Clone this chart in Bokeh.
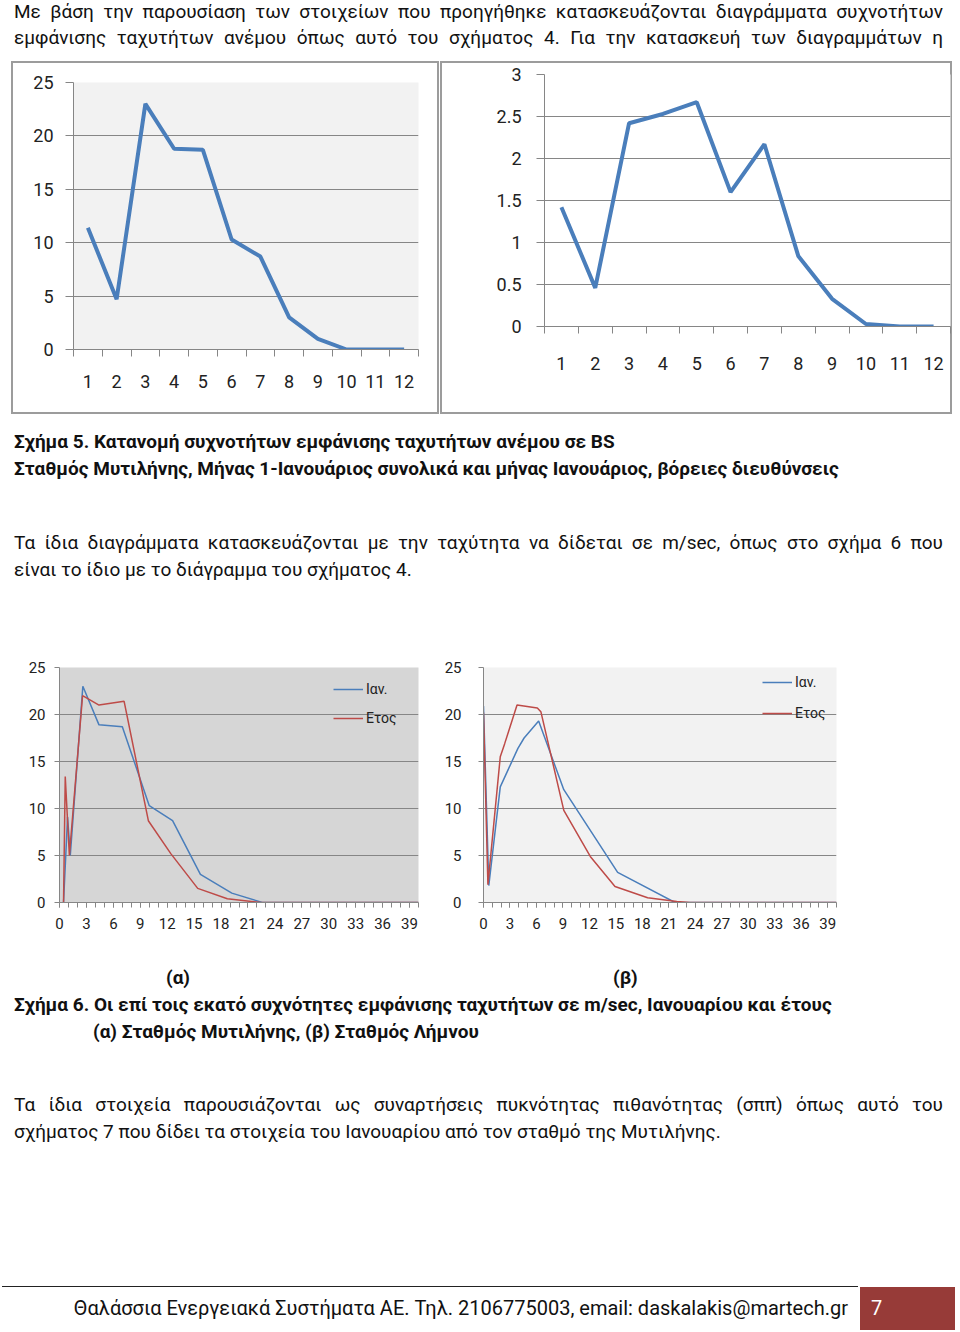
from bokeh.plotting import figure
from bokeh.models import (Range1d, FixedTicker, Legend, LegendItem, Div, Spacer,
                          NumeralTickFormatter)
from bokeh.layouts import column, row
from bokeh.embed import file_html
from bokeh.resources import INLINE

# ---------------- data ----------------
bf_classes = list(range(1, 13))
freq_jan_total = [11.4, 4.7, 23.0, 18.8, 18.7, 10.3, 8.7, 3.0, 1.0, 0.0, 0.0, 0.0]
freq_jan_north = [1.42, 0.46, 2.42, 2.53, 2.67, 1.60, 2.17, 0.84, 0.33, 0.03, 0.0, 0.0]

ms_tick_labels = list(range(0, 40, 3))
mytilene_jan_x = [0.45, 0.9, 1.2, 2.6, 4.4, 7.0, 10.0, 12.6, 15.7, 19.2, 22.6, 40.0]
mytilene_jan_y = [0.0, 9.1, 5.0, 23.0, 18.9, 18.7, 10.3, 8.7, 3.0, 1.0, 0.0, 0.0]
mytilene_year_x = [0.45, 0.64, 1.1, 2.57, 4.4, 7.2, 9.9, 12.4, 15.4, 18.7, 22.4, 40.0]
mytilene_year_y = [0.0, 13.4, 5.0, 22.0, 21.0, 21.4, 8.7, 5.2, 1.5, 0.4, 0.0, 0.0]
limnos_jan_x = [0.0, 0.6, 1.9, 3.9, 4.6, 6.25, 9.1, 15.2, 21.7, 40.0]
limnos_jan_y = [20.9, 1.8, 12.3, 16.4, 17.5, 19.3, 12.0, 3.2, 0.0, 0.0]
limnos_year_x = [0.0, 0.5, 1.9, 2.4, 3.8, 6.1, 6.5, 9.1, 12.1, 14.9, 18.6, 21.9, 23.4, 40.0]
limnos_year_y = [20.2, 1.9, 15.5, 16.9, 21.0, 20.7, 20.3, 9.8, 4.9, 1.7, 0.5, 0.1, 0.0, 0.0]

BLUE = "#4a7ebb"
RED = "#be4b48"
GRID = "#868686"
TXT = "#222222"
FONT = "Roboto"


def base_fig(w, h, xr, yr, mb, bg):
    p = figure(width=w, height=h, x_range=Range1d(*xr), y_range=Range1d(*yr),
               output_backend="svg", toolbar_location=None,
               min_border_left=mb[0], min_border_right=mb[1],
               min_border_top=mb[2], min_border_bottom=mb[3])
    p.background_fill_color = bg
    p.border_fill_color = "white"
    p.outline_line_color = None
    p.xgrid.grid_line_color = None
    p.ygrid.grid_line_color = GRID
    p.ygrid.grid_line_width = 1
    for ax in (p.xaxis[0], p.yaxis[0]):
        ax.axis_line_color = GRID
        ax.major_tick_line_color = GRID
        ax.minor_tick_line_color = GRID
        ax.major_label_text_color = TXT
        ax.major_label_text_font = FONT
        ax.major_tick_in = 0
        ax.minor_tick_in = 0
    p.yaxis.minor_tick_line_color = None
    return p


BOX = {"box-shadow": "inset 0 0 0 2px #9c9c9c", "background": "white"}

# ---------- top-left: Beaufort, total ----------
p1 = base_fig(428, 353, (0.5, 12.5), (0, 25), (62, 21, 21, 65), "#f2f2f2")
p1.line(bf_classes, freq_jan_total, line_color=BLUE, line_width=4)
p1.xaxis.ticker = FixedTicker(ticks=bf_classes, minor_ticks=[c + 0.5 for c in range(0, 13)])
p1.xaxis.major_tick_out = 0
p1.xaxis.minor_tick_out = 7
p1.xaxis.major_label_standoff = 18
p1.xaxis.major_label_text_font_size = "18px"
p1.yaxis.ticker = FixedTicker(ticks=[0, 5, 10, 15, 20, 25])
p1.yaxis.major_tick_out = 8
p1.yaxis.major_label_standoff = 12
p1.yaxis.major_label_text_font_size = "18px"
p1.border_fill_alpha = 0
p1.styles = BOX

# ---------- top-right: Beaufort, north ----------
p2 = base_fig(512, 353, (0.5, 12.5), (0, 3), (104, 2, 13, 88), "white")
p2.line(bf_classes, freq_jan_north, line_color=BLUE, line_width=4)
p2.xaxis.ticker = FixedTicker(ticks=bf_classes, minor_ticks=[c + 0.5 for c in range(0, 13)])
p2.xaxis.major_tick_out = 0
p2.xaxis.minor_tick_out = 7
p2.xaxis.major_label_standoff = 23
p2.xaxis.major_label_text_font_size = "18px"
p2.yaxis.ticker = FixedTicker(ticks=[0, 0.5, 1, 1.5, 2, 2.5, 3])
p2.yaxis.formatter = NumeralTickFormatter(format="0.[0]")
p2.yaxis.major_tick_out = 8
p2.yaxis.major_label_standoff = 15
p2.yaxis.major_label_text_font_size = "18px"
p2.border_fill_alpha = 0
p2.styles = BOX


def ms_fig(w, mb, bg, xj, yj, xy, yy, loc, spacing):
    p = base_fig(w, 290, (0, 40), (0, 25), mb, bg)
    rj = p.line(xj, yj, line_color=BLUE, line_width=1.5)
    ry = p.line(xy, yy, line_color=RED, line_width=1.5)
    p.xaxis.ticker = FixedTicker(ticks=ms_tick_labels, minor_ticks=list(range(0, 41)))
    p.xaxis.major_tick_out = 5
    p.xaxis.minor_tick_out = 5
    p.xaxis.major_label_standoff = 10
    p.xaxis.major_label_text_font_size = "15px"
    p.yaxis.ticker = FixedTicker(ticks=[0, 5, 10, 15, 20, 25])
    p.yaxis.major_tick_out = 5
    p.yaxis.major_label_text_font_size = "15px"
    leg = Legend(items=[LegendItem(label="Ιαν.", renderers=[rj]),
                        LegendItem(label="Ετος", renderers=[ry])],
                 location=loc, orientation="vertical",
                 glyph_width=30, glyph_height=20, label_height=20,
                 label_standoff=3, spacing=spacing, padding=0, margin=0,
                 border_line_color=None, background_fill_alpha=0,
                 label_text_font=FONT, label_text_font_size="14px",
                 label_text_color=TXT)
    p.add_layout(leg)
    return p


p3 = ms_fig(430, (59, 12, 12, 43), "#d6d6d6",
            mytilene_jan_x, mytilene_jan_y, mytilene_year_x, mytilene_year_y,
            (274, 174), 9)
p3.yaxis.major_label_standoff = 9
p4 = ms_fig(530, (53, 124, 12, 42), "#f2f2f2",
            limnos_jan_x, limnos_jan_y, limnos_year_x, limnos_year_y,
            (279, 179), 11)
p4.yaxis.major_label_standoff = 17


# ---------------- text blocks ----------------
def L(text, top, left=14, size=19, bold=False, justify_width=None, color="#111", extra=""):
    st = (f"position:absolute;top:{top}px;left:{left}px;font-size:{size}px;"
          f"line-height:26px;color:{color};font-weight:{'700' if bold else '400'};")
    if justify_width:
        st += f"width:{justify_width}px;text-align:justify;text-align-last:justify;"
    else:
        st += "white-space:nowrap;"
    st += extra
    return f'<div style="{st}">{text}</div>'


def block(h, inner):
    return Div(text=(f'<div style="position:relative;width:960px;height:{h}px;overflow:hidden;'
                     f'font-family:{FONT},\'Noto Sans\',sans-serif;">{inner}</div>'),
               width=960, height=h, margin=0, disable_math=True)


top_div = block(61, "".join([
    L("Με βάση την παρουσίαση των στοιχείων που προηγήθηκε κατασκευάζονται διαγράμματα συχνοτήτων",
      -1, justify_width=929),
    L("εμφάνισης ταχυτήτων ανέμου όπως αυτό του σχήματος 4. Για την κατασκευή των διαγραμμάτων η",
      25, justify_width=929),
]))

mid_div = block(241, "".join([
    L("Σχήμα 5. Κατανομή συχνοτήτων εμφάνισης ταχυτήτων ανέμου σε BS", 15, bold=True),
    L("Σταθμός Μυτιλήνης, Μήνας 1-Ιανουάριος συνολικά και μήνας Ιανουάριος, βόρειες διευθύνσεις",
      42, bold=True),
    L("Τα ίδια διαγράμματα κατασκευάζονται με την ταχύτητα να δίδεται σε m/sec, όπως στο σχήμα 6 που",
      116, justify_width=929),
    L("είναι το ίδιο με το διάγραμμα του σχήματος 4.", 143),
]))

bot_div = block(387, "".join([
    L("(α)", 20, left=166, bold=True),
    L("(β)", 20, left=613, bold=True),
    L("Σχήμα 6. Οι επί τοις εκατό συχνότητες εμφάνισης ταχυτήτων σε m/sec, Ιανουαρίου και έτους",
      47, bold=True),
    L("(α) Σταθμός Μυτιλήνης, (β) Σταθμός Λήμνου", 74, left=93, bold=True),
    L("Τα ίδια στοιχεία παρουσιάζονται ως συναρτήσεις πυκνότητας πιθανότητας (σππ) όπως αυτό του",
      147, justify_width=929),
    L("σχήματος 7 που δίδει τα στοιχεία του Ιανουαρίου από τον σταθμό της Μυτιλήνης.", 174),
    '<div style="position:absolute;top:341px;left:2px;width:856px;height:1px;background:#222;"></div>',
    '<div style="position:absolute;top:342px;left:860px;width:95px;height:43px;background:#973b38;"></div>',
    L("Θαλάσσια Ενεργειακά Συστήματα ΑΕ. Τηλ. 2106775003, email: daskalakis@martech.gr",
      350, left=0, size=20, extra="width:848px;text-align:right;"),
    L("7", 350, left=871, size=20, color="white"),
]))

layout = column(
    top_div,
    row(Spacer(width=11, height=353, margin=0), column(p1, margin=0),
        Spacer(width=1, height=353, margin=0), column(p2, margin=0),
        spacing=0, margin=0),
    mid_div,
    row(p3, p4, spacing=0, margin=0),
    bot_div,
    spacing=0, margin=0,
)

open("out.html", "w").write(file_html(layout, INLINE))
